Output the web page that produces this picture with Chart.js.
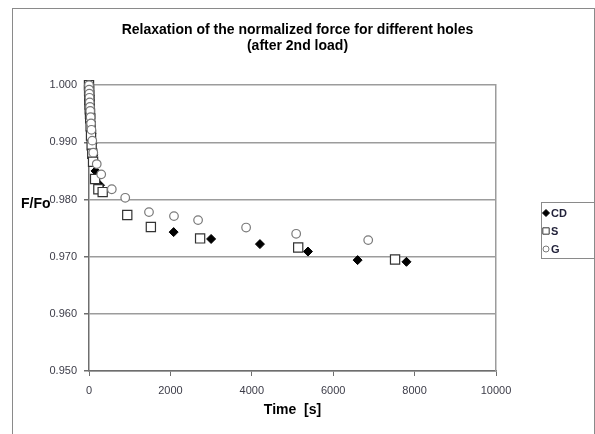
<!DOCTYPE html>
<html>
<head>
<meta charset="utf-8">
<script src="https://cdn.jsdelivr.net/npm/chart.js@4/dist/chart.umd.min.js"></script>
<style>
  html, body { margin: 0; padding: 0; background: #ffffff; }
  #wrap { width: 595px; height: 434px; position: relative; }
</style>
</head>
<body>
<div id="wrap"><canvas id="c" width="595" height="434"></canvas></div>
<script>
// ---- data ----
const titleLines = ["Relaxation of the normalized force for different holes", "(after 2nd load)"];
const xTitle = "Time  [s]";
const yTitle = "F/Fo";
const seriesNames = ["CD", "S", "G"];

const xTicks = [0, 2000, 4000, 6000, 8000, 10000];
const yTicks = [0.950, 0.960, 0.970, 0.980, 0.990, 1.000];

const cdTime  = [0, 5, 10, 20, 30, 45, 60, 80, 110, 160, 270, 2080, 3000, 4200, 5380, 6600, 7800];
const cdRatio = [1.000, 0.9988, 0.9978, 0.9962, 0.9948, 0.9932, 0.9915, 0.9898, 0.9878, 0.9850, 0.9825, 0.9743, 0.9731, 0.9722, 0.9709, 0.9694, 0.9691];

const sTime  = [0, 3, 6, 10, 15, 20, 25, 30, 40, 50, 65, 80, 100, 150, 230, 336, 940, 1520, 2730, 5140, 7520];
const sRatio = [1.000, 0.9990, 0.9982, 0.9974, 0.9966, 0.9958, 0.9950, 0.9942, 0.9928, 0.9912, 0.9895, 0.9880, 0.9866, 0.9836, 0.9818, 0.9813, 0.9773, 0.9752, 0.9732, 0.9716, 0.9695];

const gTime  = [0, 4, 8, 12, 18, 24, 30, 40, 50, 60, 80, 105, 190, 300, 560, 890, 1474, 2088, 2680, 3860, 5090, 6860];
const gRatio = [1.000, 0.9992, 0.9985, 0.9978, 0.9970, 0.9962, 0.9955, 0.9944, 0.9933, 0.9922, 0.9903, 0.9882, 0.9862, 0.9844, 0.9818, 0.9803, 0.9778, 0.9771, 0.9764, 0.9751, 0.9740, 0.9729];

const toPts = (xs, ys) => xs.map((x, i) => ({ x: x, y: ys[i] }));

const FONT = "'Liberation Sans', Arial, sans-serif";

// frame, horizontal y-title and boxed legend
const decor = {
  id: 'decor',
  beforeDraw(chart) {
    const ctx = chart.ctx;
    ctx.save();
    ctx.fillStyle = '#ffffff';
    ctx.fillRect(0, 0, chart.width, chart.height);
    ctx.strokeStyle = '#8a8a8a';
    ctx.lineWidth = 1;
    ctx.strokeRect(12.5, 8.5, 582, 440);
    ctx.restore();
  },
  afterDraw(chart) {
    const ctx = chart.ctx;
    ctx.save();
    // y title (horizontal, like the original)
    ctx.fillStyle = '#000000';
    ctx.font = 'bold 14px ' + FONT;
    ctx.textAlign = 'left';
    ctx.textBaseline = 'middle';
    ctx.fillText(yTitle, 21, 204);
    // legend box
    ctx.strokeStyle = '#8a8a8a';
    ctx.lineWidth = 1;
    ctx.strokeRect(541.5, 202.5, 53, 56);
    const rows = [213, 231, 249];
    ctx.font = 'bold 11px ' + FONT;
    chart.data.datasets.forEach((ds, i) => {
      const y = rows[i];
      const smallR = ds.pointStyle === 'rect' ? 4.5 : (ds.pointStyle === 'rectRot' ? 3.5 : 3);
      ctx.fillStyle = ds.backgroundColor;
      ctx.strokeStyle = ds.borderColor;
      ctx.lineWidth = 1;
      Chart.helpers.drawPoint(ctx, { pointStyle: ds.pointStyle, radius: smallR, borderWidth: 1, rotation: 0 }, 546, y);
      ctx.fillStyle = '#22223a';
      ctx.textBaseline = 'middle';
      ctx.fillText(ds.label, 551, y + 0.5);
    });
    ctx.restore();
  }
};

new Chart(document.getElementById('c'), {
  type: 'scatter',
  data: {
    datasets: [
      { label: seriesNames[0], data: toPts(cdTime, cdRatio), pointStyle: 'rectRot', pointRadius: 4.5,
        backgroundColor: '#000000', borderColor: '#000000', borderWidth: 1, order: 3, clip: false },
      { label: seriesNames[1], data: toPts(sTime, sRatio), pointStyle: 'rect', pointRadius: 6.5,
        backgroundColor: '#ffffff', borderColor: '#333333', borderWidth: 1.2, order: 2, clip: false },
      { label: seriesNames[2], data: toPts(gTime, gRatio), pointStyle: 'circle', pointRadius: 4.3,
        backgroundColor: '#ffffff', borderColor: '#7a7a7a', borderWidth: 1.2, order: 1, clip: false }
    ]
  },
  options: {
    responsive: false,
    animation: false,
    layout: { padding: 0 },
    plugins: {
      legend: { display: false },
      tooltip: { enabled: false },
      title: {
        display: true,
        text: titleLines,
        color: '#000000',
        font: { family: FONT, size: 14, weight: 'bold', lineHeight: 1.15 },
        padding: { top: 22, bottom: 31 }
      }
    },
    scales: {
      x: {
        type: 'linear', min: 0, max: 10000,
        afterBuildTicks: (s) => { s.ticks = xTicks.map(v => ({ value: v })); },
        afterFit: (s) => { s.height = 63; },
        ticks: { color: '#3c3c48', font: { family: FONT, size: 11 }, padding: 8, maxRotation: 0,
                 callback: (v) => String(v) },
        grid: { display: true, drawOnChartArea: false, drawTicks: true, tickLength: 5, tickColor: '#6e6e6e' },
        border: { display: true, color: '#6e6e6e', width: 1.5 },
        title: { display: true, text: xTitle, color: '#000000',
                 font: { family: FONT, size: 14, weight: 'bold', lineHeight: 1.2 },
                 padding: { top: 0, bottom: 15 } }
      },
      y: {
        type: 'linear', position: 'left', min: 0.95, max: 1.0,
        afterBuildTicks: (s) => { s.ticks = yTicks.map(v => ({ value: v })); },
        afterFit: (s) => { s.width = 89; },
        ticks: { color: '#3c3c48', font: { family: FONT, size: 11 }, padding: 7,
                 callback: (v) => Number(v).toFixed(3) },
        grid: { color: '#9c9c9c', lineWidth: 1.5, tickLength: 5, tickColor: '#6e6e6e' },
        border: { display: true, color: '#6e6e6e', width: 1.5 }
      },
      yR: {
        type: 'linear', position: 'right', min: 0, max: 1,
        afterFit: (s) => { s.width = 99; },
        ticks: { display: false },
        grid: { display: false },
        border: { display: true, color: '#9c9c9c', width: 1.5 }
      }
    }
  },
  plugins: [decor]
});
</script>
</body>
</html>
